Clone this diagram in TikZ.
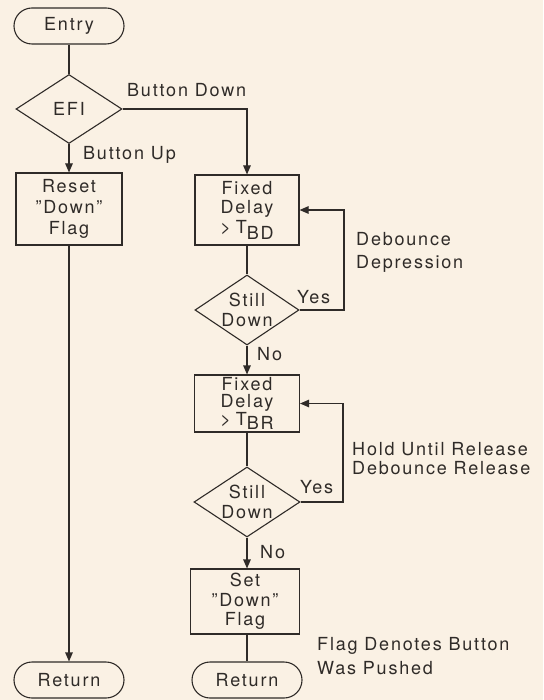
\documentclass[tikz,border=0pt]{standalone}
\usepackage{fontspec}
\setmainfont[LetterSpace=10]{TeX Gyre Heros}
\usetikzlibrary{shapes.geometric,arrows.meta}
\definecolor{bg}{HTML}{FAF1E4}
\definecolor{ink}{HTML}{2F2B28}
\newcommand{\fs}[1]{\fontsize{18}{#1}\selectfont}
\begin{document}
\begin{tikzpicture}[x=1pt,y=-1pt,
  every node/.style={text=ink, font=\fs{20}, inner sep=0pt},
  term/.style={draw=ink, line width=1.1pt, rounded corners=18pt, minimum width=110pt, minimum height=36pt},
  proc/.style={draw=ink, line width=1.1pt, align=center, minimum width=106pt},
  dec/.style={draw=ink, line width=1.1pt, diamond, aspect=1.5, align=center, minimum width=106pt, minimum height=70pt},
  lbl/.style={anchor=north west, align=left},
  tag/.style={anchor=base west},
  line/.style={draw=ink, line width=1.1pt},
  arr/.style={line, -{Triangle[length=9pt,width=7.5pt]}}]
\fill[bg] (0,0) rectangle (543,700);
\useasboundingbox (0,0) rectangle (543,700);

% left column
\node[term] (entry) at (69,26) {Entry};
\node[dec, minimum height=69pt] (efi) at (69,109) {EFI};
\node[proc, minimum height=72pt, font=\fs{21}] (reset) at (69,209) {Reset\\''Down''\\Flag};
\node[term] (ret1) at (69,680) {Return};

% right column
\node[proc, minimum width=104pt, minimum height=70pt, font=\fs{19.5}] (fix1) at (247,210) {Fixed\\Delay\\{>}\hspace{5pt}T\raisebox{-6pt}{BD}};
\node[dec, minimum width=104pt] (sd1) at (247,310) {Still\\Down};
\node[proc, minimum width=105pt, minimum height=57pt, font=\fs{17}] (fix2) at (247,403.5) {Fixed\\Delay\\{>}\hspace{5pt}T\raisebox{-4pt}{BR}};
\node[dec] (sd2) at (247,502) {Still\\Down};
\node[proc, minimum width=109pt, minimum height=65pt, font=\fs{19.5}] (set) at (245,601.5) {Set\\''Down''\\Flag};
\node[term] (ret2) at (247,680) {Return};

\coordinate (fb1) at (344,0);
\coordinate (fb2) at (343,0);

% connectors
\draw[line] (entry) -- (efi);
\draw[arr] (efi) -- (reset);
\draw[arr] (efi.east) -| (fix1.north);
\draw[arr] (reset) -- (ret1);
\draw[line] (fix1) -- (sd1);
\draw[arr] (sd1.east) -- (sd1.east -| fb1) |- (fix1.east);
\draw[arr] (sd1) -- (fix2);
\draw[line] (fix2) -- (sd2);
\draw[arr] (sd2.east) -- (sd2.east -| fb2) |- (fix2.east);
\draw[arr] (sd2.south) -- (sd2.south |- set.north);
\draw[line] (sd2.south |- set.south) -- (ret2.north);

% labels
\node[tag] (lbd) at (127,97) {Button Down};
\node[tag] (lbu) at (83,160) {Button Up};
\node[tag] (y1) at (297,303) {Yes};
\node[tag] (n1) at (257,360) {No};
\node[lbl, font=\fs{23}] (dd) at (356,232) {Debounce\\Depression};
\node[lbl, font=\fs{19}] (hu) at (352,442) {Hold Until Release\\Debounce Release};
\node[tag] (y2) at (300,493) {Yes};
\node[tag] (n2) at (260,558) {No};
\node[lbl, font=\fs{24}] (fd) at (317,637) {Flag Denotes Button\\Was Pushed};
\end{tikzpicture}
\end{document}
